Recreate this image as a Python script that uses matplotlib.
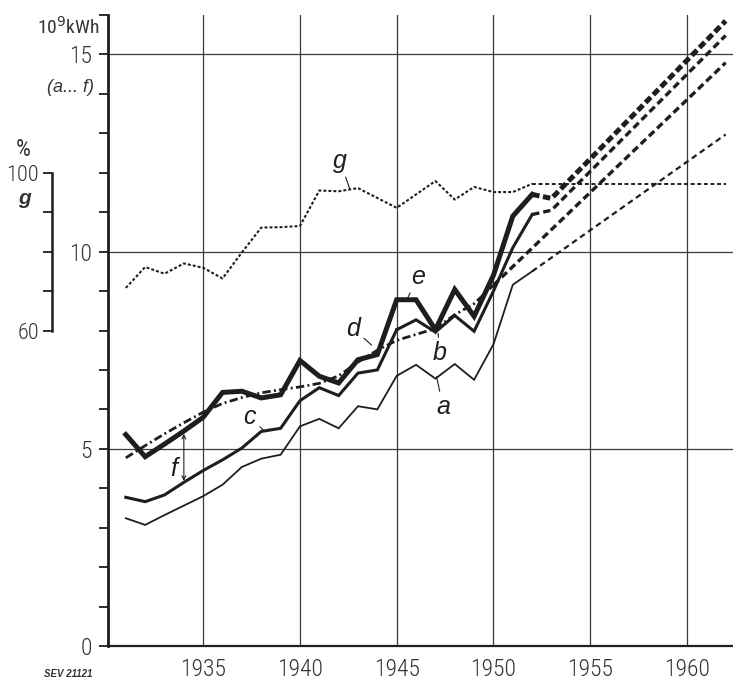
import matplotlib
matplotlib.use("Agg")
import matplotlib.pyplot as plt

# ---------------- data ----------------
years = list(range(1931, 1953))
# a : thin solid line (10^9 kWh)
a_vals = [3.24, 3.07, 3.32, 3.56, 3.80, 4.09, 4.54, 4.75, 4.85, 5.57, 5.76,
          5.52, 6.08, 6.00, 6.85, 7.13, 6.78, 7.15, 6.75, 7.65, 9.16, 9.50]
# e : heavy solid line
e_vals = [5.36, 4.80, 5.12, 5.45, 5.80, 6.43, 6.46, 6.29, 6.37, 7.24, 6.84,
          6.67, 7.26, 7.39, 8.78, 8.78, 8.02, 9.04, 8.36, 9.40, 10.90, 11.45]
# c : medium line 1931-1945
c_years = list(range(1931, 1946))
c_vals = [3.77, 3.66, 3.83, 4.15, 4.45, 4.72, 5.02, 5.44, 5.52, 6.22, 6.55,
          6.35, 6.92, 7.00, 8.02]
# b : medium line 1945-1952
b_years = list(range(1945, 1953))
b_vals = [8.02, 8.27, 7.96, 8.38, 7.98, 9.00, 10.10, 10.94]
# d : dash-dot trend line
d_years = list(range(1931, 1951))
d_vals = [4.77, 5.08, 5.38, 5.66, 5.93, 6.15, 6.30, 6.42, 6.50, 6.57, 6.66,
          6.85, 7.20, 7.50, 7.75, 7.90, 8.05, 8.40, 8.68, 9.15]
# g : percentage (right-hand % scale)
g_vals = [70.8, 76.1, 74.4, 77.0, 75.9, 73.2, 79.8, 86.1, 86.2, 86.5, 95.5,
          95.3, 96.1, 93.6, 91.1, 94.5, 97.9, 93.2, 96.4, 95.1, 95.1, 97.2]

# projections (dashed)
e_proj_years = [1952, 1953, 1962]
e_proj_vals = [11.45, 11.35, 15.85]
b_proj_years = [1952, 1953, 1962]
b_proj_vals = [10.94, 11.05, 15.48]
d_proj_years = [1950, 1962]
d_proj_vals = [9.15, 14.79]
a_proj_years = [1952, 1962]
a_proj_vals = [9.50, 12.97]
g_proj_years = [1952, 1962]
g_proj_vals = [97.2, 97.2]

x_ticks = [1935, 1940, 1945, 1950, 1955, 1960]
y_major = [0, 5, 10, 15]
g_ticks = [60, 70, 80, 90, 100]
g_ticklabels = ["60", "", "", "", "100"]

# ---------------- style ----------------
INK = "#1e1e1e"
TICKFONT = ["Roboto Condensed", "Liberation Sans Narrow", "DejaVu Sans"]
LABFONT = ["Liberation Sans", "DejaVu Sans"]

fig = plt.figure(figsize=(7.33, 6.82), dpi=100)
fig.patch.set_facecolor("white")
ax = fig.add_axes([108 / 733, 36 / 682, 625 / 733, 631 / 682])
ax.set_xlim(1930.08, 1962.38)
ax.set_ylim(0, 16)

for s in ["top", "right"]:
    ax.spines[s].set_visible(False)
ax.spines["left"].set_linewidth(2.0)
ax.spines["bottom"].set_linewidth(1.6)
ax.spines["left"].set_color(INK)
ax.spines["bottom"].set_color(INK)

ax.set_yticks(y_major)
ax.set_yticklabels([str(v) for v in y_major])
ax.set_yticks([v for v in range(1, 17) if v % 5], minor=True)
ax.tick_params(axis="y", which="both", direction="out", length=6.5, width=1.3,
               color=INK, pad=5, labelsize=17, labelcolor="#333333")
ax.set_xticks(x_ticks)
ax.set_xticklabels([str(v) for v in x_ticks])
ax.tick_params(axis="x", length=0, pad=9, labelsize=17, labelcolor="#333333")
for lab in ax.get_xticklabels() + ax.get_yticklabels():
    lab.set_family(TICKFONT)
    lab.set_fontweight("light")

ax.grid(True, which="major", axis="both", color="#3a3a3a", lw=0.9)
ax.set_axisbelow(True)

# ---------------- lines ----------------
ax.plot(years, a_vals, color=INK, lw=1.3, solid_joinstyle="miter")
ax.plot(c_years, c_vals, color=INK, lw=2.2, solid_joinstyle="miter")
ax.plot(b_years, b_vals, color=INK, lw=2.2, solid_joinstyle="miter")
ax.plot(years, e_vals, color=INK, lw=3.6, solid_joinstyle="miter")
ax.plot(d_years, d_vals, color=INK, lw=2.0, linestyle=(0, (3.0, 1.2, 0.7, 1.2)))

ax.plot(e_proj_years, e_proj_vals, color=INK, lw=3.6, linestyle=(0, (1.5, 0.7)))
ax.plot(b_proj_years, b_proj_vals, color=INK, lw=2.4, linestyle=(0, (2.2, 1.2)))
ax.plot(d_proj_years, d_proj_vals, color=INK, lw=2.4, linestyle=(0, (2.2, 1.2)))
ax.plot(a_proj_years, a_proj_vals, color=INK, lw=1.6, linestyle=(0, (2.6, 1.8)))

# g on its own % scale
axg = ax.twinx()
axg.set_ylim(-20, 140)
for s in axg.spines.values():
    s.set_visible(False)
axg.spines["left"].set_visible(True)
axg.spines["left"].set_position(("axes", (52 - 108) / 625))
axg.spines["left"].set_bounds(60, 100)
axg.spines["left"].set_linewidth(1.8)
axg.spines["left"].set_color(INK)
axg.yaxis.set_ticks_position("left")
axg.set_yticks(g_ticks)
axg.set_yticklabels(g_ticklabels)
axg.tick_params(axis="y", direction="out", length=6.5, width=1.3, color=INK,
                pad=3, labelsize=16, labelcolor="#333333")
for lab in axg.get_yticklabels():
    lab.set_family(TICKFONT)
    lab.set_fontweight("light")
axg.plot(years, g_vals, color=INK, lw=1.5, linestyle=(0, (1.4, 1.0)))
axg.plot(g_proj_years, g_proj_vals, color=INK, lw=1.4, linestyle=(0, (2.0, 1.4)))

# ---------------- curve labels ----------------
lab_kw = dict(fontsize=18, style="italic", family=LABFONT, color=INK,
              ha="center", va="center")
leader = dict(arrowstyle="-", lw=0.8, color=INK, shrinkA=1, shrinkB=0)
ax.annotate("g", xy=(1942.58, 11.58), xytext=(1942.07, 12.30),
            arrowprops=leader, **lab_kw)
ax.annotate("e", xy=(1945.51, 8.77), xytext=(1946.11, 9.36),
            arrowprops=leader, **lab_kw)
ax.annotate("d", xy=(1943.70, 7.63), xytext=(1942.75, 8.05),
            arrowprops=leader, **lab_kw)
ax.annotate("b", xy=(1947.14, 7.93), xytext=(1947.23, 7.42),
            arrowprops=leader, **lab_kw)
ax.annotate("a", xy=(1947.06, 6.83), xytext=(1947.40, 6.05),
            arrowprops=leader, **lab_kw)
ax.annotate("c", xy=(1938.10, 5.48), xytext=(1937.41, 5.80),
            arrowprops=leader, **lab_kw)
i34 = years.index(1934)
ax.annotate("", xy=(1934, c_vals[c_years.index(1934)]), xytext=(1934, e_vals[i34]),
            arrowprops=dict(arrowstyle="<->", lw=0.8, color=INK,
                            shrinkA=2, shrinkB=1, mutation_scale=7))
ax.text(1933.45, 4.50, "f", **lab_kw)

# ---------------- axis titles ----------------
fig.text(100 / 733, 1 - 27 / 682, r"10$^9$kWh", ha="right", va="center",
         fontsize=14, family=TICKFONT, color="#333333")
fig.text(94 / 733, 1 - 87 / 682, "(a... f)", ha="right", va="center",
         fontsize=13, style="italic", family=LABFONT, color="#333333")
fig.text(23 / 733, 1 - 150 / 682, "%", ha="center", va="center",
         fontsize=17, family=TICKFONT, color="#333333")
fig.text(24 / 733, 1 - 198 / 682, "g", ha="center", va="center",
         fontsize=15, style="italic", weight="bold", family=LABFONT, color="#333333")
fig.text(68 / 733, 1 - 674 / 682, "SEV 21121", ha="center", va="center",
         fontsize=7, style="italic", weight="bold", family=LABFONT, color="#333333")

fig.savefig("out.png", dpi=100, facecolor="white")
